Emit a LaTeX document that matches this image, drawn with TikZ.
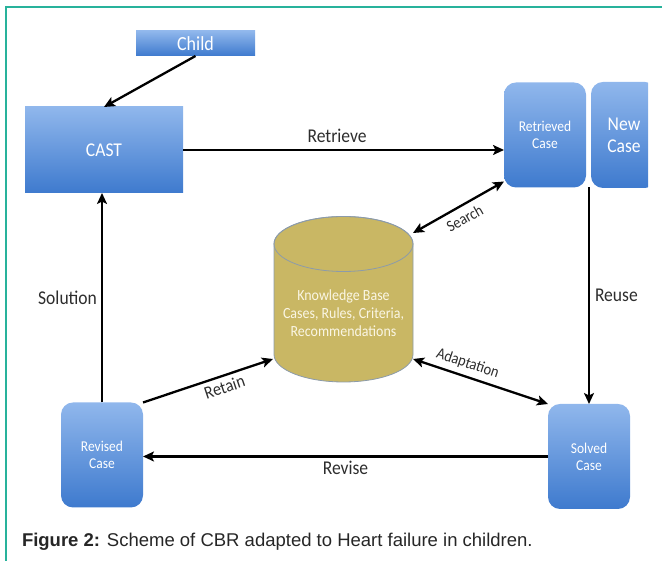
\documentclass[tikz,border=0pt]{standalone}
\usepackage{fontspec}
\setmainfont{Carlito}[FakeStretch=0.9]
\newfontfamily\capfont{Liberation Sans}
\usetikzlibrary{arrows.meta,backgrounds}
\definecolor{boxtop}{RGB}{144,183,236}
\definecolor{boxbot}{RGB}{62,122,206}
\definecolor{kbfill}{RGB}{201,183,100}
\definecolor{kbline}{RGB}{140,155,170}
\definecolor{kbtext}{RGB}{250,246,228}
\definecolor{frameteal}{RGB}{40,178,155}
\definecolor{lbl}{RGB}{45,45,45}
\begin{document}
\begin{tikzpicture}[x=1pt,y=1pt,
    every node/.style={inner sep=0pt,outer sep=0pt},
    bluebox/.style={top color=boxtop,bottom color=boxbot,text=white,align=center},
    casebox/.style={bluebox,rounded corners=12pt,minimum width=82,minimum height=105,font=\fontsize{15}{17}\selectfont},
    flow/.style={line width=2.3pt,-{Stealth[length=11pt,width=10pt,inset=2.5pt]}},
    both/.style={line width=2.3pt,{Stealth[length=11pt,width=10pt,inset=2.5pt]}-{Stealth[length=11pt,width=10pt,inset=2.5pt]}},
    lab/.style={text=lbl,font=\fontsize{19.5}{22}\selectfont},
    smalllab/.style={text=lbl,font=\fontsize{16}{18}\selectfont}]
        \newcommand{\kbrx}{69.5}
        \newcommand{\kbry}{27.5}
        \useasboundingbox (0,0) rectangle (662,561);
        \draw[frameteal,line width=1.5pt] (6,0) -- (6,554) -- (662,554);
        \node[bluebox,minimum width=119,minimum height=25,font=\fontsize{20}{22}\selectfont] (child) at (195.5,517.5) {Child};
        \node[bluebox,minimum width=158,minimum height=86,font=\fontsize{19.5}{22}\selectfont] (cast) at (104,411) {CAST};
        \foreach \nm/\px/\py/\txt in {retrieved/545/426/Retrieved,revised/102/106/Revised,solved/589/104.5/Solved}{
          \node[casebox] (\nm) at (\px,\py) {\txt\\Case};
        }
        \begin{scope}
          \clip (585,300) rectangle (648,500);
          \node[casebox,minimum width=66,minimum height=106,font=\fontsize{19.5}{22}\selectfont] (newcase) at (624,426) {New\\Case};
        \end{scope}
        \node[minimum width=139,minimum height=138,align=center,text=kbtext,font=\fontsize{15.5}{18}\selectfont] (kb) at (343.5,248) {Knowledge Base\\Cases, Rules, Criteria,\\Recommendations};
        \begin{scope}[on background layer]
          \filldraw[fill=kbfill,draw=kbline,line width=0.8pt] (kb.north west) -- ([yshift=\kbry]kb.south west)
            arc[start angle=180,end angle=360,x radius=\kbrx,y radius=\kbry] -- (kb.north east)
            arc[start angle=0,end angle=180,x radius=\kbrx,y radius=\kbry] -- cycle;
          \draw[kbline,line width=0.8pt] (kb.north) ellipse[x radius=\kbrx,y radius=\kbry];
        \end{scope}
        \draw[flow] (child.south) -- (cast.north);
        \draw[flow] (cast.east) -- (cast.east -| retrieved.west) node[lab,pos=0.48,above=7pt] {Retrieve};
        \draw[flow] (solved.north |- retrieved.south) -- (solved.north) node[lab,midway,right=6pt] {Reuse};
        \draw[flow] (solved.west) -- (solved.west -| revised.east) node[lab,midway,below=5pt] {Revise};
        \draw[flow] (revised.north) -- (revised.north |- cast.south) node[lab,midway,left=5pt] {Solution};
        \draw[flow] (revised.north east) -- ([shift={(-1pt,23pt)}]kb.south west) node[lab,pos=0.6,sloped,below=5pt,font=\fontsize{18}{20}\selectfont] {Retain};
        \draw[both] ([yshift=11pt]kb.north east) -- ([yshift=6pt]retrieved.south west) node[smalllab,midway,sloped,below=7pt] {Search};
        \draw[both] ([yshift=23pt]kb.south east) -- (solved.north west) node[smalllab,pos=0.375,sloped,above=6pt] {Adaptation};
        \node[anchor=base west,text=black!85,font=\capfont\fontsize{18.5}{22}\selectfont] (caption) at (22,14) {\textbf{Figure 2:} Scheme of CBR adapted to Heart failure in children.};
      \end{tikzpicture}
\end{document}
